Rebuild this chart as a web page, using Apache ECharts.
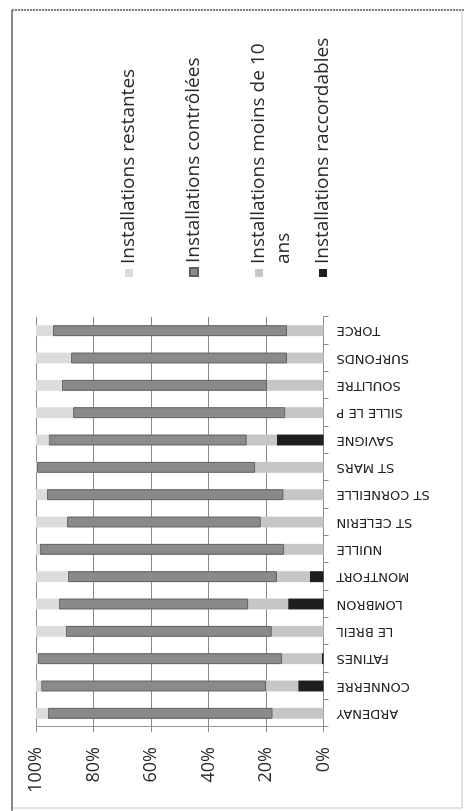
<!DOCTYPE html>
<html>
<head>
<meta charset="utf-8">
<script src="https://cdn.jsdelivr.net/npm/echarts@6/dist/echarts.min.js"></script>
<style>
  html, body { margin: 0; padding: 0; background: #ffffff; overflow: hidden; width: 464px; height: 811px; }
  #chart { position: absolute; left: 0; top: 811px; width: 811px; height: 464px;
           transform-origin: 0 0; transform: rotate(-90deg); background: #ffffff; }
</style>
</head>
<body>
<div id="chart"></div>
<script>
// ---- data (percent of installations per commune) ----
const categories = ['ARDENAY','CONNERRE','FATINES','LE BREIL','LOMBRON','MONTFORT','NUILLE','ST CELERIN','ST CORNEILLE','ST MARS','SAVIGNE','SILLE LE P','SOULITRE','SURFONDS','TORCE'];
const raccordables = [0, 8.8, 0.6, 0, 12.3, 4.7, 0, 0, 0, 0, 16.2, 0, 0, 0, 0];
const moinsDe10Ans = [17.7, 11.2, 13.8, 18.0, 13.9, 11.5, 13.7, 21.8, 13.9, 23.8, 10.5, 13.3, 19.7, 12.7, 12.7];
const controlees  = [78.2, 78.2, 85.0, 71.7, 65.9, 72.7, 85.0, 67.4, 82.3, 75.9, 68.9, 73.8, 71.3, 75.1, 81.4];
const restantes   = [4.1, 1.8, 0.6, 10.3, 7.9, 11.1, 1.3, 10.8, 3.8, 0.3, 4.4, 12.9, 9.0, 12.2, 5.9];
const valueTicks = [0, 20, 40, 60, 80, 100];

const names = {
  restantes: 'Installations restantes',
  controlees: 'Installations contrôlées',
  moins: 'Installations moins de 10 ans',
  raccordables: 'Installations raccordables'
};
const colors = {
  restantes: '#dcdcdc',
  controlees: '#8a8a8a',
  moins: '#c6c6c6',
  raccordables: '#1e1e1e'
};

const chart = echarts.init(document.getElementById('chart'));

const legendText = { fontFamily: 'Open Sans', fontSize: 19, color: '#2a2a2a', lineHeight: 24 };
function legendAt(name, top, extra) {
  return Object.assign({
    data: [name], orient: 'vertical', left: 534, top: top, padding: 0,
    itemWidth: 8, itemHeight: 8, icon: 'rect', selectedMode: false,
    textStyle: Object.assign({}, legendText)
  }, extra || {});
}

const option = {
  animation: false,
  backgroundColor: '#ffffff',
  graphic: [
    { type: 'rect', shape: { x: 3, y: 12, width: 798, height: 450 }, style: { fill: 'none', stroke: '#c8c8c8', lineWidth: 1 }, silent: true },
    { type: 'line', shape: { x1: 0, y1: 12, x2: 801, y2: 12 }, style: { stroke: '#6a6a6a', lineWidth: 1.5 }, silent: true },
    { type: 'line', shape: { x1: 801, y1: 12, x2: 801, y2: 464 }, style: { stroke: '#6a6a6a', lineWidth: 1.5, lineDash: [2, 1] }, silent: true }
  ],
  legend: [
    legendAt(names.restantes, 117),
    legendAt(names.controlees, 182),
    legendAt(names.moins, 221.5, {
      formatter: function () { return '\nInstallations moins de 10\nans'; },
      textStyle: Object.assign({}, legendText, { lineHeight: 25 })
    }),
    legendAt(names.raccordables, 311)
  ],
  grid: { left: 84, right: 317, top: 36, bottom: 140.5, containLabel: false },
  xAxis: {
    type: 'category',
    data: categories,
    boundaryGap: true,
    axisLine: { show: true, lineStyle: { color: '#8a8a8a', width: 1 } },
    axisTick: { show: true, inside: false, length: 5, alignWithLabel: false, lineStyle: { color: '#8a8a8a' } },
    axisLabel: { rotate: 90, margin: 13, interval: 0, fontFamily: 'DejaVu Sans', fontSize: 13, color: '#222' },
    splitLine: { show: false }
  },
  yAxis: {
    type: 'value',
    min: valueTicks[0], max: valueTicks[valueTicks.length - 1], interval: 20,
    axisLine: { show: true, lineStyle: { color: '#8a8a8a', width: 1, type: 'dotted' } },
    axisTick: { show: true, inside: false, length: 5, lineStyle: { color: '#8a8a8a' } },
    axisLabel: { formatter: '{value}%', margin: 20, fontFamily: 'Open Sans', fontSize: 18, color: '#2a2a2a' },
    splitLine: { show: true, lineStyle: { color: '#8a8a8a', width: 1 } }
  },
  series: [
    { name: names.raccordables, type: 'bar', stack: 'total', barWidth: '40%', data: raccordables,
      itemStyle: { color: colors.raccordables } },
    { name: names.moins, type: 'bar', stack: 'total', barWidth: '40%', data: moinsDe10Ans,
      itemStyle: { color: colors.moins } },
    { name: names.controlees, type: 'bar', stack: 'total', barWidth: '40%', data: controlees,
      itemStyle: { color: colors.controlees, borderColor: '#5e5e5e', borderWidth: 1 } },
    { name: names.restantes, type: 'bar', stack: 'total', barWidth: '40%', data: restantes,
      itemStyle: { color: colors.restantes } }
  ]
};
chart.setOption(option);
</script>
</body>
</html>
